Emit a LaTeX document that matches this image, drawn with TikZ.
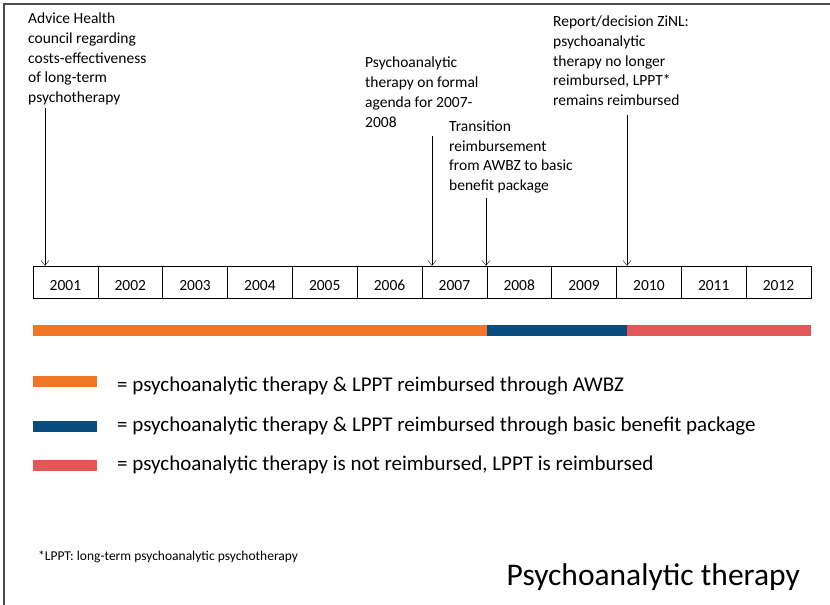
\documentclass[tikz,border=0pt]{standalone}
\usepackage{fontspec}
\setmainfont{Carlito}
\usetikzlibrary{arrows.meta}

\definecolor{awbz}{RGB}{243,117,38}
\definecolor{basic}{RGB}{8,76,128}
\definecolor{notreimb}{RGB}{226,88,88}
\def\cellwidth{64.83}

\begin{document}
\begin{tikzpicture}[x=1pt,y=-1pt]
    \tikzstyle{year}=[draw, minimum width=\cellwidth pt, minimum height=32pt, inner sep=0pt, text height=16pt, text depth=0pt, font=\fontsize{15.5}{19}\selectfont]
    % base of an annot node is the base of its last line
    \tikzstyle{annot}=[anchor=base west, align=left, inner sep=0pt, font=\fontsize{15.5}{19.7}\selectfont]
    \tikzstyle{legend}=[anchor=base west, inner sep=0pt, font=\fontsize{21}{24}\selectfont]
    \tikzstyle{event}=[-{Straight Barb[length=5pt,width=8pt]}, black]

    \useasboundingbox (0,0) rectangle (830,605);
    \draw[line width=1.5pt, black!70] (4,605) -- (4,4) -- (830,4);

    % Draw the year cells
    \foreach \i in {1,...,12} {
        \pgfmathtruncatemacro{\yr}{2000+\i}
        \node[year] (Y-\i) at ({33+\cellwidth*(\i-0.5)},282) {\yr};
    }

    % Events above the time line
    \node[annot] (A-1) at (28,102.5) {Advice Health\\council regarding\\costs-effectiveness\\of long-term\\psychotherapy};
    \node[annot] (A-2) at (365,127) {Psychoanalytic\\therapy on formal\\agenda for 2007-\\2008};
    \node[annot] (A-3) at (449,190.5) {Transition\\reimbursement\\from AWBZ to basic\\benefit package};
    \node[annot] (A-4) at (553,105.5) {Report/decision ZiNL:\\psychoanalytic\\therapy no longer\\reimbursed, LPPT*\\remains reimbursed};

    % Point every event at the time line
    \coordinate (S-1) at (45,108);
    \coordinate (S-2) at (432,136);
    \coordinate (S-3) at (486,198);
    \coordinate (S-4) at (627,115);
    \foreach \s in {1,...,4}
        \draw[event] (S-\s) -- (S-\s |- Y-1.north);

    % Reimbursement bar
    \fill[awbz] (33,325) rectangle (487,336);
    \fill[basic] (487,325) rectangle (627,336);
    \fill[notreimb] (627,325) rectangle (811,336);

    % Legend
    \fill[awbz] (33,376) rectangle (97,387);
    \node[legend] (L-1) at (117,391) {= psychoanalytic therapy \& LPPT reimbursed through AWBZ};
    \fill[basic] (33,421) rectangle (97,432);
    \node[legend] (L-2) at (117,431) {= psychoanalytic therapy \& LPPT reimbursed through basic benefit package};
    \fill[notreimb] (33,460) rectangle (97,471);
    \node[legend] (L-3) at (117,470) {= psychoanalytic therapy is not reimbursed, LPPT is reimbursed};

    \node[anchor=base west, inner sep=0pt, font=\fontsize{13.5}{16}\selectfont] (note) at (38,560) {*LPPT: long-term psychoanalytic psychotherapy};
    \node[anchor=base east, inner sep=0pt, font=\fontsize{31.5}{36}\selectfont] (title) at (800,585) {Psychoanalytic therapy};
\end{tikzpicture}
\end{document}
